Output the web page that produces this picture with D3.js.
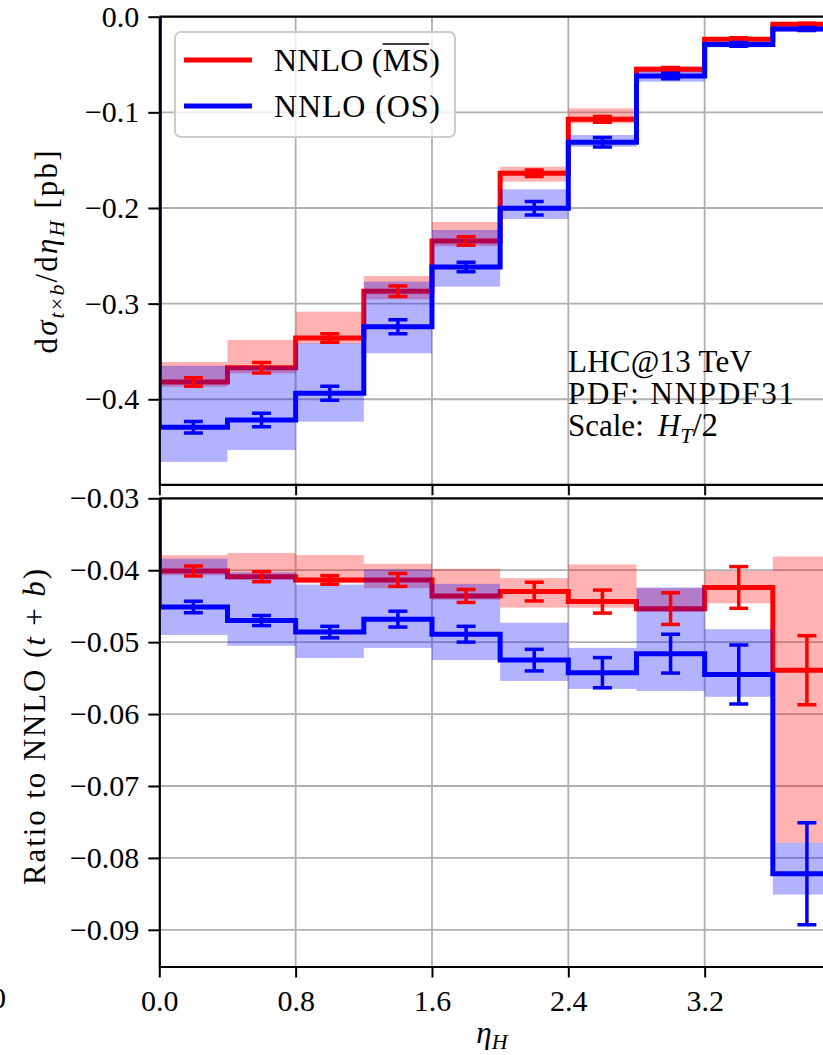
<!DOCTYPE html>
<html>
<head>
<meta charset="utf-8">
<script src="https://cdn.jsdelivr.net/npm/d3@7"></script>
<style>
  body { margin: 0; background: #fff; }
  svg text { font-family: "Liberation Serif", "Times New Roman", serif !important; fill: #000; }
</style>
</head>
<body>
<script>
// bins in eta_H
var binEdges = [0, 0.4, 0.8, 1.2, 1.6, 2.0, 2.4, 2.8, 3.2, 3.6, 4.0];
var xTicks = [0, 0.8, 1.6, 2.4, 3.2];
var topTicks = [0, -0.1, -0.2, -0.3, -0.4];
var ratioTicks = [-0.03, -0.04, -0.05, -0.06, -0.07, -0.08, -0.09];

// upper panel: d sigma / d eta_H [pb]
var topMS     = [-0.382, -0.367, -0.336, -0.287, -0.2345, -0.1637, -0.1073, -0.055, -0.0235, -0.0078];
var topMSErr  = [0.0045, 0.0055, 0.0045, 0.0055, 0.0045, 0.0035, 0.003, 0.002, 0.0015, 0.001];
var topMSHi   = [-0.361, -0.338, -0.3084, -0.2711, -0.2146, -0.1568, -0.0958, -0.052, -0.0215, -0.0055];
var topMSLo   = [-0.387, -0.373, -0.342, -0.2955, -0.240, -0.1725, -0.1115, -0.0585, -0.0255, -0.0095];
var topOS     = [-0.4293, -0.4216, -0.3937, -0.3241, -0.2617, -0.2003, -0.1313, -0.062, -0.029, -0.0129];
var topOSErr  = [0.006, 0.007, 0.0073, 0.0073, 0.005, 0.007, 0.005, 0.003, 0.002, 0.0015];
var topOSHi   = [-0.365, -0.3655, -0.3415, -0.277, -0.223, -0.1805, -0.1237, -0.0572, -0.026, -0.0105];
var topOSLo   = [-0.4655, -0.453, -0.4234, -0.3519, -0.2823, -0.2115, -0.136, -0.0679, -0.032, -0.0155];

// lower panel: ratio to NNLO (t+b)
var ratioMS    = [-0.0401, -0.0409, -0.04135, -0.04135, -0.04358, -0.04297, -0.04436, -0.04534, -0.0424, -0.0539];
var ratioMSErr = [0.0007, 0.0007, 0.0006, 0.0009, 0.0009, 0.0013, 0.0016, 0.0022, 0.0029, 0.0048];
var ratioMSHi  = [-0.0379, -0.0376, -0.0379, -0.0391, -0.0398, -0.0411, -0.0392, -0.0425, -0.0401, -0.0381];
var ratioMSLo  = [-0.0407, -0.0413, -0.0418, -0.0425, -0.0441, -0.0452, -0.0452, -0.0458, -0.0446, -0.0779];
var ratioOS    = [-0.0451, -0.047, -0.0486, -0.0468, -0.0489, -0.0525, -0.05425, -0.0516, -0.0545, -0.0822];
var ratioOSErr = [0.0008, 0.0007, 0.0008, 0.0011, 0.0011, 0.0015, 0.0021, 0.0027, 0.0041, 0.0071];
var ratioOSHi  = [-0.0384, -0.0403, -0.042, -0.0399, -0.0419, -0.0473, -0.0508, -0.0424, -0.0482, -0.0779];
var ratioOSLo  = [-0.049, -0.0505, -0.0522, -0.0508, -0.0525, -0.0554, -0.0565, -0.0568, -0.0576, -0.0851];

var RED = "#ff0000", BLUE = "#0000ff", FS = 30, SERIF = '"Liberation Serif", serif';

var svg = d3.select("body").append("svg")
  .attr("width", 823)
  .attr("height", 1055)
  .style("font-family", SERIF);
var defs = svg.append("defs");

// the plot runs on past the right edge of the picture
var x = d3.scaleLinear().domain([0, 4]).range([159.3, 841]);
var yTop = d3.scaleLinear().domain([-0.4889, 0]).range([484.3, 16.7]);
var yBot = d3.scaleLinear().domain([-0.0951, -0.03]).range([966.5, 498.3]);

function stepPoints(vals) {
  var pts = [[0, 0]];
  vals.forEach(function(v, i) {
    pts.push([binEdges[i], v]);
    pts.push([binEdges[i + 1], v]);
  });
  pts.push([binEdges[binEdges.length - 1], 0]);
  return pts;
}

function drawPanel(id, y, ticks, fmt, s) {
  var x0 = x.range()[0], x1 = x.range()[1];
  var yb = y.range()[0], yt = y.range()[1];
  defs.append("clipPath").attr("id", id)
    .append("rect").attr("x", x0).attr("y", yt)
    .attr("width", x1 - x0).attr("height", yb - yt);

  var g = svg.append("g");
  var c = g.append("g").attr("clip-path", "url(#" + id + ")");

  // grid
  c.selectAll(".gx").data(xTicks).enter().append("line")
    .attr("x1", d => x(d)).attr("x2", d => x(d))
    .attr("y1", yt).attr("y2", yb)
    .attr("stroke", "#b0b0b0").attr("stroke-width", 1.8);
  c.selectAll(".gy").data(ticks).enter().append("line")
    .attr("x1", x0).attr("x2", x1)
    .attr("y1", d => y(d)).attr("y2", d => y(d))
    .attr("stroke", "#b0b0b0").attr("stroke-width", 1.8);

  var line = d3.line().x(d => x(d[0])).y(d => y(d[1]));

  function band(hi, lo, col) {
    c.append("g").selectAll("rect").data(hi).enter().append("rect")
      .attr("x", (d, i) => x(binEdges[i]))
      .attr("width", (d, i) => x(binEdges[i + 1]) - x(binEdges[i]))
      .attr("y", d => y(d))
      .attr("height", (d, i) => y(lo[i]) - y(d))
      .attr("fill", col).attr("fill-opacity", 0.3);
  }
  function step(vals, col) {
    c.append("path").datum(stepPoints(vals))
      .attr("d", line).attr("fill", "none")
      .attr("stroke", col).attr("stroke-width", 5)
      .attr("stroke-linejoin", "miter");
  }
  function errs(vals, err, col) {
    var eg = c.append("g").attr("stroke", col).attr("stroke-width", 3.5);
    vals.forEach(function(v, i) {
      var cx = x((binEdges[i] + binEdges[i + 1]) / 2);
      eg.append("line").attr("x1", cx).attr("x2", cx)
        .attr("y1", y(v - err[i])).attr("y2", y(v + err[i]));
      [v - err[i], v + err[i]].forEach(function(e) {
        eg.append("line").attr("x1", cx - 9.5).attr("x2", cx + 9.5)
          .attr("y1", y(e)).attr("y2", y(e));
      });
    });
  }

  step(s.ms, RED);
  band(s.msHi, s.msLo, RED);
  band(s.osHi, s.osLo, BLUE);
  step(s.os, BLUE);
  errs(s.ms, s.msErr, RED);
  errs(s.os, s.osErr, BLUE);

  // axes
  var ay = g.append("g").attr("transform", "translate(" + x0 + ",0)")
    .call(d3.axisLeft(y).tickValues(ticks).tickFormat(d3.format(fmt))
      .tickSize(11).tickSizeOuter(0).tickPadding(9));
  var ax = g.append("g").attr("transform", "translate(0," + yb + ")")
    .call(d3.axisBottom(x).tickValues(xTicks).tickSize(11).tickSizeOuter(0)
      .tickPadding(12).tickFormat(s.xlabels ? d3.format(".1f") : ""));
  [ay, ax].forEach(function(a) {
    a.attr("font-family", null).attr("font-size", null);
    a.select(".domain").attr("stroke", "#000").attr("stroke-width", 2.2);
    a.selectAll(".tick line").attr("stroke", "#000").attr("stroke-width", 2);
    a.selectAll(".tick text").style("font-size", FS + "px")
      .style("font-family", SERIF).attr("fill", "#000");
  });
  g.append("line").attr("x1", x0).attr("x2", x1).attr("y1", yt).attr("y2", yt)
    .attr("stroke", "#000").attr("stroke-width", 2.2);
  return g;
}

drawPanel("clipTop", yTop, topTicks, ".1f", {
  ms: topMS, msErr: topMSErr, msHi: topMSHi, msLo: topMSLo,
  os: topOS, osErr: topOSErr, osHi: topOSHi, osLo: topOSLo, xlabels: false
});
drawPanel("clipBot", yBot, ratioTicks, ".2f", {
  ms: ratioMS, msErr: ratioMSErr, msHi: ratioMSHi, msLo: ratioMSLo,
  os: ratioOS, osErr: ratioOSErr, osHi: ratioOSHi, osLo: ratioOSLo, xlabels: true
});

function txt(sel) {
  return sel.append("text").style("font-family", SERIF);
}

// legend
var leg = svg.append("g");
leg.append("rect").attr("x", 175).attr("y", 32).attr("width", 280).attr("height", 105)
  .attr("rx", 6).attr("fill", "#fff").attr("fill-opacity", 0.8)
  .attr("stroke", "#cccccc").attr("stroke-width", 2);
var legItems = [{ col: RED, label: "NNLO (MS)" }, { col: BLUE, label: "NNLO (OS)" }];
legItems.forEach(function(it, i) {
  var ly = 60 + i * 46;
  leg.append("line").attr("x1", 184).attr("x2", 252).attr("y1", ly).attr("y2", ly)
    .attr("stroke", it.col).attr("stroke-width", 5);
  var t = txt(leg).attr("x", 274).attr("y", ly + 11).style("font-size", "32px")
    .attr("textLength", 166).text(it.label);
  if (i === 0) {
    var n = t.node();
    var a = n.getStartPositionOfChar(6).x, b = n.getEndPositionOfChar(7).x;
    leg.append("line").attr("x1", a).attr("x2", b).attr("y1", 44).attr("y2", 44)
      .attr("stroke", "#000").attr("stroke-width", 1.6);
  }
});

// run info
var info = svg.append("g");
txt(info).attr("x", 568).attr("y", 372).style("font-size", "31px").attr("textLength", 184).text("LHC@13 TeV");
txt(info).attr("x", 568).attr("y", 404).style("font-size", "31px").attr("textLength", 226).text("PDF: NNPDF31");
var sc = txt(info).attr("x", 568).attr("y", 436).style("font-size", "31px");
sc.append("tspan").text("Scale:");
sc.append("tspan").attr("dx", 14).attr("font-style", "italic").text("H");
sc.append("tspan").attr("dy", 7).style("font-size", "22px").attr("font-style", "italic").text("T");
sc.append("tspan").attr("dy", -7).style("font-size", "33px").text("/2");

// axis labels
var yl1 = txt(svg).attr("transform", "translate(57,252) rotate(-90)")
  .attr("text-anchor", "middle").style("font-size", "31px").attr("textLength", 203);
yl1.append("tspan").text("d");
yl1.append("tspan").attr("font-style", "italic").text("σ");
yl1.append("tspan").attr("dy", 7).style("font-size", "22px").attr("font-style", "italic").text("t");
yl1.append("tspan").style("font-size", "22px").text("×");
yl1.append("tspan").style("font-size", "22px").attr("font-style", "italic").text("b");
yl1.append("tspan").attr("dy", -7).text("/d");
yl1.append("tspan").attr("font-style", "italic").text("η");
yl1.append("tspan").attr("dy", 7).style("font-size", "22px").attr("font-style", "italic").text("H");
yl1.append("tspan").attr("dy", -7).text(" [pb]");

var yl2 = txt(svg).attr("transform", "translate(45,727) rotate(-90)")
  .attr("text-anchor", "middle").style("font-size", "31px").attr("textLength", 316);
yl2.append("tspan").text("Ratio to NNLO (");
yl2.append("tspan").attr("font-style", "italic").text("t");
yl2.append("tspan").text(" + ");
yl2.append("tspan").attr("font-style", "italic").text("b");
yl2.append("tspan").text(")");

var xl = txt(svg).attr("x", 492).attr("y", 1043)
  .attr("text-anchor", "middle").style("font-size", "31px");
xl.append("tspan").attr("font-style", "italic").text("η");
xl.append("tspan").attr("dy", 6).style("font-size", "22px").attr("font-style", "italic").text("H");

// a cut-off label at the left edge of the picture
txt(svg).attr("x", 6).attr("y", 1008).attr("text-anchor", "end")
  .style("font-size", FS + "px").text("0");
</script>
</body>
</html>
